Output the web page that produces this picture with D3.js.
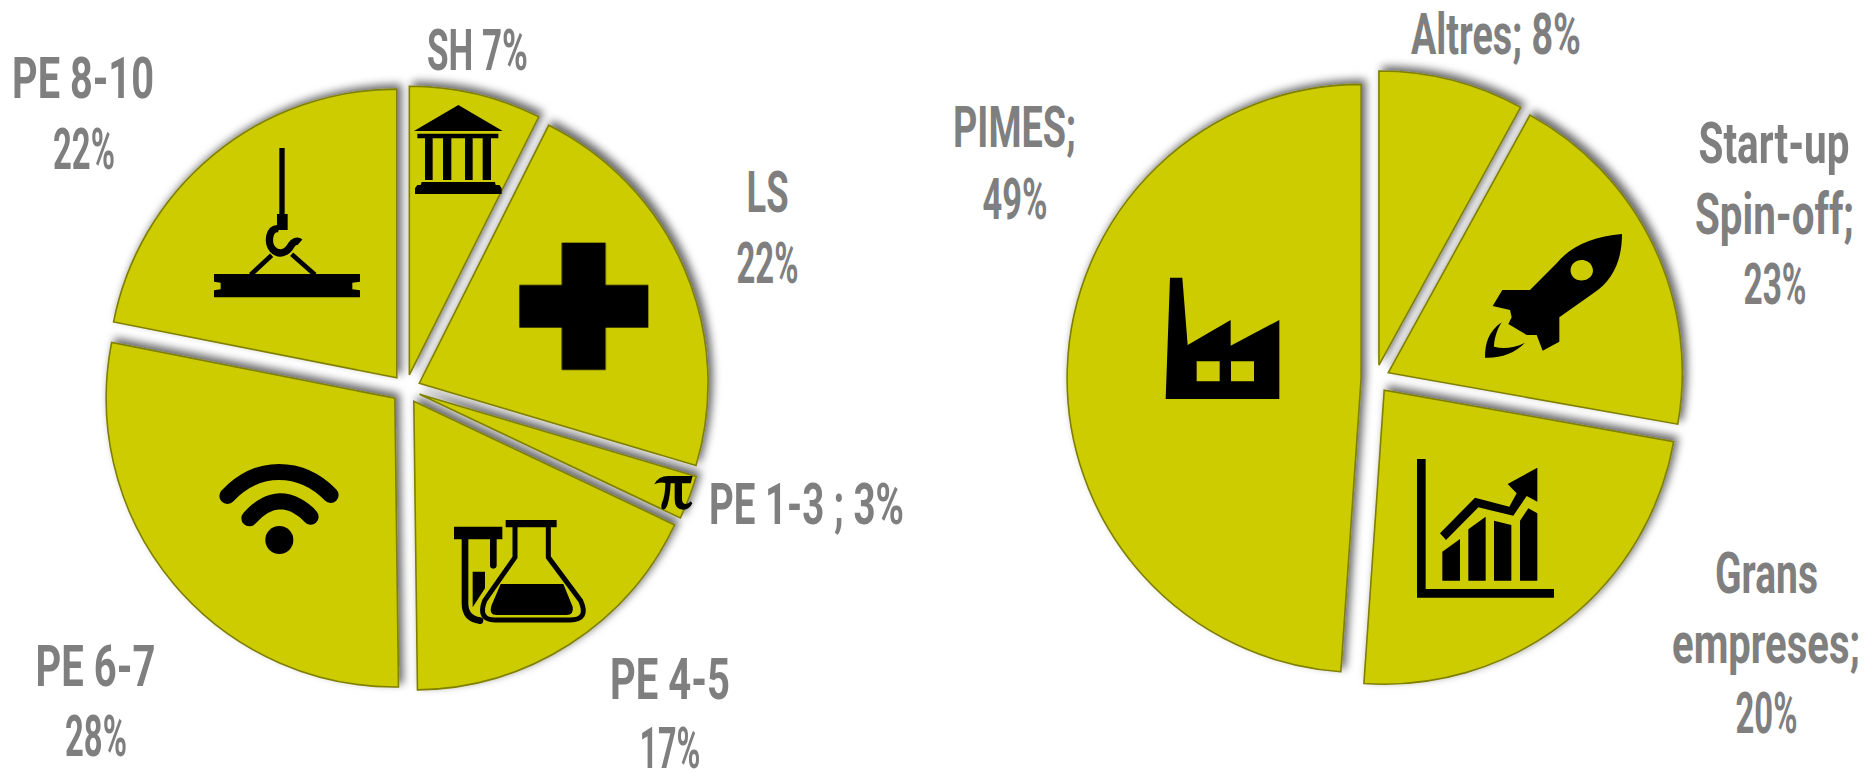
<!DOCTYPE html>
<html>
<head>
<meta charset="utf-8">
<script src="https://cdnjs.cloudflare.com/ajax/libs/d3/7.8.5/d3.min.js"></script>
<style>html,body{margin:0;padding:0;background:#fff;overflow:hidden}svg{display:block}</style>
</head>
<body>
<script>
// Slice names and sizes (share of the full turn, %)
const leftCategories = ["SH", "LS", "PE 1-3", "PE 4-5", "PE 6-7", "PE 8-10"];
const leftValues = [7.4, 22.2, 2.45, 17.75, 28.3, 21.9];
const rightCategories = ["Altres", "Start-up Spin-off", "Grans empreses", "PIMES"];
const rightValues = [8, 19.8, 23.3, 48.9];

// Label lines: text, centre x, baseline y, drawn width
const leftLabels = [
  ["PE 8-10", 83, 98, 142], ["22%", 84, 169, 62],
  ["SH 7%", 477.5, 70, 101],
  ["LS", 767.5, 212, 42], ["22%", 767.5, 283, 62],
  ["PE 1-3 ; 3%", 806.5, 524, 195],
  ["PE 6-7", 95.5, 686, 120], ["28%", 96, 756, 62],
  ["PE 4-5", 670, 699, 120], ["17%", 670, 768, 61]
];
const rightLabels = [
  ["Altres; 8%", 1496, 54, 170],
  ["PIMES;", 1014.5, 147, 123], ["49%", 1015, 219, 65],
  ["Start-up", 1774, 163, 151], ["Spin-off;", 1774.5, 234, 159], ["23%", 1775, 304, 63],
  ["Grans", 1766.5, 593, 103], ["empreses;", 1766, 663, 188], ["20%", 1766.5, 733, 62]
];

const pies = [
  {values: leftValues, names: leftCategories, cx: 406, cy: 389, r: 288.7, off: 14.5},
  {values: rightValues, names: rightCategories, cx: 1375.4, cy: 378.9, r: 294, off: 14.3}
];

// Pictograms: local outlines, origin and scale
const col = (a, b) => `M${a} 235H${b}V360H${a}Z`;
const icons = [
  {o: [380, 60], d: "M235 135L368 213H102Z M112 221H355V235H112Z " + col(135,158) + col(189,214) + col(255,278) + col(308,333) +
      " M125 366H345L347 375H358L365 385V402H105V385L112 375H122Z"},
  {o: [380, 60], d: "M545 548H677V675H805V803H677V930H545V803H418V675H545Z"},
  {o: [400, 380], d: "M763 313Q775 288 805 288H878L872 310H846V358Q846 372 858 372Q866 372 872 364L877 370Q868 390 848 389Q824 388 824 358V310H812Q810 350 803 372Q798 390 789 388Q780 385 786 368Q796 345 796 309Q778 305 763 313Z"},
  {o: [400, 380], d: "M162 440H307V478H162Z M317 420H470V442H317Z M218 575H255V625L218 682Z M302 612H490L518 680Q522 705 500 705H290Q265 705 275 675Z"},
  {o: [400, 380], stroke: 20, d: "M195 478V670Q195 716 240 722 M280 478V556"},
  {o: [400, 380], stroke: 15, d: "M345 442V532L254 662Q232 720 285 720H510Q568 720 542 662L445 532V442"},
  {o: [200, 440], stroke: 48, d: "M82 168C125 122 180 96 237 96C295 96 350 122 392 165 M148 235C175 205 205 185 240 184C275 184 310 205 332 230"},
  {o: [200, 440], d: "M196 300A42 42 0 1 0 280 300A42 42 0 1 0 196 300Z"},
  {o: [190, 130], d: "M268 54H284V252H293V300H261V252H268Z M72 432H510V455L487 458V478L510 481V502H72V481L92 478V458L72 455Z"},
  {o: [190, 130], stroke: 22, cap: "butt", d: "M266 296C235 292 232 340 248 358C268 378 292 368 304 345C310 335 322 330 330 337"},
  {o: [190, 130], stroke: 14, cap: "butt", d: "M182 434L245 376 M305 373L375 434"},
  {o: [1120, 240], d: "M150 113H187L203 315L332 240V317L478 240V477H137Z M230 364V424H299V364Z M333 364V424H402V364Z"},
  {o: [1340, 200], d: "M846 102C760 108 690 140 650 190L570 270H487L458 318L510 330L515 352L505 372L560 405H590L608 452L658 425V352L760 280C820 240 846 180 846 102Z M725 180C705 180 690 195 692 215C695 235 715 245 735 240C755 235 765 215 755 197C750 187 738 180 725 180Z"},
  {o: [1340, 200], d: "M485 367C445 395 435 430 435 473C480 475 525 460 555 428C520 445 490 448 462 440C462 420 470 390 485 367Z"},
  {o: [1340, 200], d: "M231 777H257V1167H642V1193H231Z M307 1055L360 1017V1142H307Z M385 988L437 950V1142H385Z M462 962L514 975V1142H462Z M540 962L565 925L592 940V1142H540Z M300 1000L405 893L508 920L530 880L503 852L592 803V905L560 888L520 947L415 922L318 1020Z"}
];

const svg = d3.select("body").append("svg").attr("width", 1864).attr("height", 773);

const filter = svg.append("defs").append("filter").attr("id", "sh")
  .attr("x", "-10%").attr("y", "-10%").attr("width", "120%").attr("height", "120%");
filter.append("feDropShadow").attr("dx", 4).attr("dy", -4).attr("stdDeviation", 4)
  .attr("flood-color", "#000").attr("flood-opacity", 0.6);

const pieGen = d3.pie().sort(null).value(d => d);

pies.forEach(p => {
  const arcGen = d3.arc().innerRadius(0).outerRadius(p.r);
  svg.append("g").attr("filter", "url(#sh)")
    .selectAll("path").data(pieGen(p.values)).join("path")
    .attr("d", arcGen)
    .attr("transform", d => {
      const a = (d.startAngle + d.endAngle) / 2;
      return `translate(${p.cx + p.off * Math.sin(a)},${p.cy - p.off * Math.cos(a)})`;
    })
    .attr("fill", "#cccc00")
    .attr("stroke", "#7f7f00")
    .attr("stroke-width", 1.6)
    .attr("stroke-linejoin", "miter");
});

svg.append("g").selectAll("path").data(icons).join("path")
  .attr("transform", d => `translate(${d.o[0]},${d.o[1]}) scale(${1 / 3})`)
  .attr("d", d => d.d)
  .attr("fill", d => d.stroke ? "none" : "#000")
  .attr("fill-rule", "evenodd")
  .attr("stroke", d => d.stroke ? "#000" : "none")
  .attr("stroke-width", d => d.stroke || 0)
  .attr("stroke-linecap", d => d.cap || "round");

svg.append("g").selectAll("text").data(leftLabels.concat(rightLabels)).join("text")
  .attr("text-anchor", "middle")
  .attr("font-family", "Roboto, 'Liberation Sans', sans-serif")
  .attr("font-weight", 700)
  .attr("font-size", 57)
  .attr("fill", "#7f7f7f")
  .text(d => d[0])
  .attr("transform", function (d) {
    const sx = d[3] / this.getComputedTextLength();
    return `translate(${d[1]},${d[2]}) scale(${sx},1)`;
  });
</script>
</body>
</html>
